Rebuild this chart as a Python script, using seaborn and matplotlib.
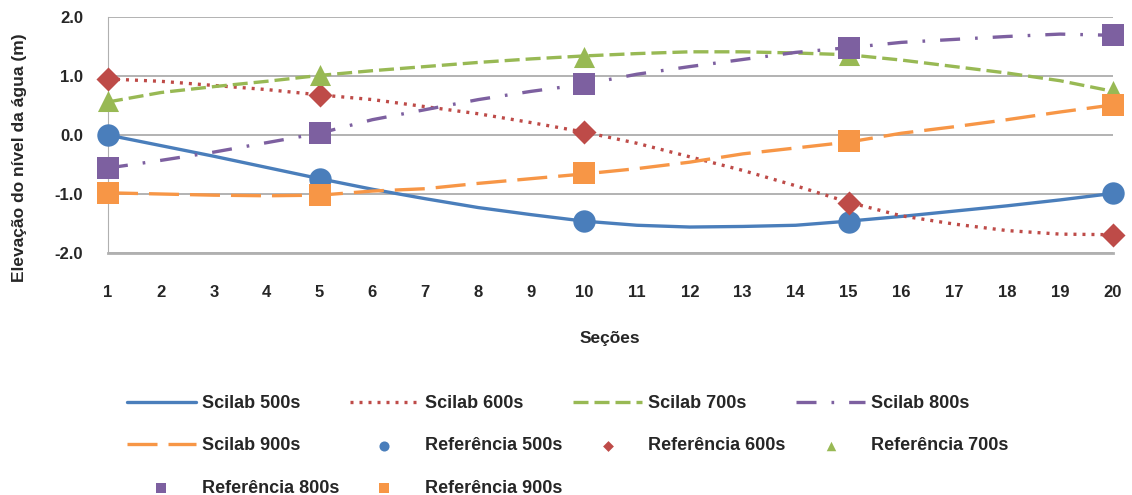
import matplotlib
matplotlib.use("Agg")
from matplotlib import pyplot as plt
from matplotlib.ticker import FormatStrFormatter
import seaborn as sns

sections = list(range(1, 21))
ref_sections = [1, 5, 10, 15, 20]

scilab_500 = [0.00, -0.18, -0.36, -0.55, -0.74, -0.92, -1.08, -1.23, -1.35, -1.46,
              -1.53, -1.56, -1.55, -1.53, -1.46, -1.38, -1.29, -1.20, -1.10, -0.99]
scilab_600 = [0.95, 0.91, 0.84, 0.77, 0.68, 0.60, 0.48, 0.36, 0.21, 0.05,
              -0.14, -0.37, -0.60, -0.86, -1.14, -1.37, -1.51, -1.62, -1.68, -1.69]
scilab_700 = [0.56, 0.72, 0.82, 0.91, 1.01, 1.09, 1.16, 1.23, 1.29, 1.34,
              1.38, 1.41, 1.41, 1.39, 1.36, 1.27, 1.16, 1.05, 0.92, 0.74]
scilab_800 = [-0.56, -0.43, -0.29, -0.13, 0.03, 0.26, 0.43, 0.60, 0.74, 0.86,
              1.03, 1.16, 1.28, 1.40, 1.48, 1.57, 1.62, 1.67, 1.71, 1.69]
scilab_900 = [-0.98, -1.00, -1.02, -1.03, -1.02, -0.95, -0.91, -0.82, -0.74, -0.66,
              -0.57, -0.46, -0.32, -0.22, -0.12, 0.03, 0.14, 0.26, 0.39, 0.51]

ref_500 = [0.00, -0.74, -1.46, -1.47, -0.99]
ref_600 = [0.95, 0.67, 0.05, -1.15, -1.70]
ref_700 = [0.57, 1.02, 1.33, 1.36, 0.74]
ref_800 = [-0.56, 0.04, 0.86, 1.48, 1.69]
ref_900 = [-0.99, -1.02, -0.65, -0.10, 0.51]

sns.set_style("white")
plt.rcParams['font.family'] = ['Liberation Sans', 'DejaVu Sans']
plt.rcParams['axes.unicode_minus'] = False

fig = plt.figure(figsize=(11.32, 4.95), dpi=100)
ax = fig.add_axes([108 / 1132, 1 - 253 / 495, (1113 - 108) / 1132, (253 - 17) / 495])

blue, red, green, purple, orange = "#4A7EBB", "#BE4B48", "#98B954", "#7D60A0", "#F79646"

lines = [
    (scilab_500, blue, "-", "Scilab 500s"),
    (scilab_600, red, (0, (0.9, 1.8)), "Scilab 600s"),
    (scilab_700, green, (0, (4.5, 1.8)), "Scilab 700s"),
    (scilab_800, purple, (0, (6, 4.5, 0.8, 4.5)), "Scilab 800s"),
    (scilab_900, orange, (0, (9, 3.3)), "Scilab 900s"),
]
for vals, col, ls, lab in lines:
    sns.lineplot(x=sections, y=vals, color=col, linestyle=ls, lw=2.4, ax=ax, label=lab)

refs = [
    (ref_500, blue, "o", 260, "Referência 500s"),
    (ref_600, red, "D", 150, "Referência 600s"),
    (ref_700, green, "^", 230, "Referência 700s"),
    (ref_800, purple, "s", 250, "Referência 800s"),
    (ref_900, orange, "s", 250, "Referência 900s"),
]
for vals, col, mk, sz, lab in refs:
    sns.scatterplot(x=ref_sections, y=vals, color=col, marker=mk, s=sz, linewidth=0,
                    ax=ax, label=lab, clip_on=False, zorder=5)

ax.set_xlim(1, 20)
ax.set_ylim(-2, 2)
ax.set_xticks(sections)
ax.set_yticks([-2, -1, 0, 1, 2])
ax.yaxis.set_major_formatter(FormatStrFormatter('%.1f'))
ax.grid(axis='y', color='#A6A6A6', lw=1.2)
ax.grid(axis='x', visible=False)
for s in ['top', 'right']:
    ax.spines[s].set_visible(False)
ax.spines['left'].set_color('#B0B0B0')
ax.spines['bottom'].set_color('#B0B0B0')
ax.spines['bottom'].set_linewidth(2)
ax.tick_params(axis='y', length=6, color='#A6A6A6', pad=12, labelsize=12)
ax.tick_params(axis='x', length=0, pad=23, labelsize=12)
for t in ax.get_xticklabels() + ax.get_yticklabels():
    t.set_fontweight('bold')

ax.set_xlabel("")
ax.set_ylabel("")
fig.text(610 / 1132, 1 - 338 / 495, "Seções", ha='center', va='center',
         fontsize=12.5, fontweight='bold')
fig.text(20 / 1132, 1 - 158 / 495, "Elevação do nível da água (m)", rotation=90,
         ha='center', va='center', fontsize=12.5, fontweight='bold')

handles, labels = ax.get_legend_handles_labels()
ax.get_legend().remove()
order = [0, 4, 8, 1, 5, 9, 2, 6, 3, 7]
fig.legend([handles[i] for i in order], [labels[i] for i in order],
           loc='upper left', bbox_to_anchor=(127 / 1132, 1 - 395 / 495), ncol=4,
           frameon=False, borderpad=0, borderaxespad=0,
           handlelength=3.8, handletextpad=0.35, columnspacing=0.6,
           labelspacing=1.4, markerscale=0.45, prop={'weight': 'bold', 'size': 13})

fig.savefig("out.png", dpi=100)
